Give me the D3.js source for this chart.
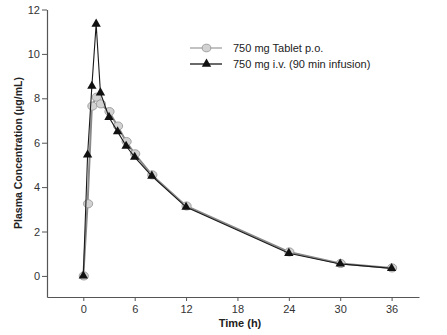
<!DOCTYPE html>
<html>
<head>
<meta charset="utf-8">
<script src="https://cdn.jsdelivr.net/npm/d3@7"></script>
<style>
  html, body { margin: 0; padding: 0; background: #fff; }
  svg { display: block; font-family: "Liberation Sans", Arial, sans-serif; }
</style>
</head>
<body>
<svg id="chart" width="447" height="335"></svg>
<script>
// Sampling times (h)
const times = [0, 0.5, 1, 1.5, 2, 3, 4, 5, 6, 8, 12, 24, 30, 36];
// 750 mg tablet p.o. plasma concentration (µg/mL)
const tabletValues = [0, 3.25, 7.65, 8.05, 7.75, 7.4, 6.75, 6.05, 5.5, 4.55, 3.15, 1.08, 0.56, 0.36];
// 750 mg i.v. (90 min infusion) plasma concentration (µg/mL)
const ivValues = [0, 5.45, 8.55, 11.35, 8.25, 7.15, 6.5, 5.85, 5.35, 4.5, 3.1, 1.02, 0.54, 0.34];

const xTicks = [0, 6, 12, 18, 24, 30, 36];
const yTicks = [0, 2, 4, 6, 8, 10, 12];
const seriesNames = ["750 mg Tablet p.o.", "750 mg i.v. (90 min infusion)"];

const svg = d3.select("#chart");

const x = d3.scaleLinear().domain([-4.24, 39.2]).range([47, 419]);
const y = d3.scaleLinear().domain([-0.95, 12]).range([297, 9.5]);

const axisColor = "#555";
const textColor = "#333";

// X axis
const xAxis = svg.append("g")
  .attr("transform", `translate(0,${y(-0.95)})`)
  .call(d3.axisBottom(x).tickValues(xTicks).tickSize(4).tickPadding(4).tickSizeOuter(0));
// Y axis
const yAxis = svg.append("g")
  .attr("transform", `translate(${x(-4.24)},0)`)
  .call(d3.axisLeft(y).tickValues(yTicks).tickSize(5).tickPadding(2).tickSizeOuter(0));

[xAxis, yAxis].forEach(g => {
  g.select(".domain").attr("stroke", axisColor).attr("stroke-width", 1.2);
  g.selectAll(".tick line").attr("stroke", axisColor);
  g.selectAll(".tick text").attr("fill", textColor)
    .style("font-size", "11px").style("font-family", "Liberation Sans, Arial, sans-serif");
});

// Axis titles
svg.append("text")
  .attr("x", 240).attr("y", 327)
  .attr("text-anchor", "middle")
  .style("font-size", "11px").style("font-weight", "bold")
  .attr("fill", "#222")
  .text("Time (h)");

svg.append("text")
  .attr("transform", `translate(22,153) rotate(-90)`)
  .attr("text-anchor", "middle")
  .style("font-size", "10.5px").style("font-weight", "bold")
  .attr("fill", "#222")
  .text("Plasma Concentration (µg/mL)");

const tabletData = times.map((t, i) => ({ t, v: tabletValues[i] }));
const ivData = times.map((t, i) => ({ t, v: ivValues[i] }));

const line = d3.line().x(d => x(d.t)).y(d => y(d.v));

// Tablet series: grey line with light grey circles
svg.append("path").datum(tabletData)
  .attr("d", line)
  .attr("fill", "none")
  .attr("stroke", "#8a8a8a")
  .attr("stroke-width", 2);

svg.append("g").selectAll("ellipse").data(tabletData).join("ellipse")
  .attr("cx", d => x(d.t) + 0.5)
  .attr("cy", d => y(d.v))
  .attr("rx", 4.6).attr("ry", 4.1)
  .attr("fill", "#d2d2d2")
  .attr("stroke", "#9a9a9a")
  .attr("stroke-width", 0.9);

// IV series: black line with filled triangles
svg.append("path").datum(ivData)
  .attr("d", line)
  .attr("fill", "none")
  .attr("stroke", "#1a1a1a")
  .attr("stroke-width", 1.1);

const tri = d3.symbol().type(d3.symbolTriangle).size(38);
svg.append("g").selectAll("path").data(ivData).join("path")
  .attr("transform", d => `translate(${x(d.t)},${y(d.v)})`)
  .attr("d", tri)
  .attr("fill", "#111");

// Legend
const legend = svg.append("g");
const legendRows = [
  { name: seriesNames[0], y: 48, kind: "circle" },
  { name: seriesNames[1], y: 64, kind: "triangle" }
];
legendRows.forEach(r => {
  const g = legend.append("g");
  g.append("line")
    .attr("x1", 190).attr("x2", 222)
    .attr("y1", r.y).attr("y2", r.y)
    .attr("stroke", r.kind === "circle" ? "#999" : "#1a1a1a")
    .attr("stroke-width", r.kind === "circle" ? 1.2 : 1.3);
  if (r.kind === "circle") {
    g.append("ellipse")
      .attr("cx", 206.5).attr("cy", r.y)
      .attr("rx", 4.3).attr("ry", 3.8)
      .attr("fill", "#d2d2d2").attr("stroke", "#9a9a9a").attr("stroke-width", 0.9);
  } else {
    g.append("path")
      .attr("transform", `translate(206.5,${r.y})`)
      .attr("d", tri).attr("fill", "#111");
  }
  g.append("text")
    .attr("x", 233).attr("y", r.y + 4)
    .style("font-size", "11px")
    .attr("fill", "#222")
    .text(r.name);
});
</script>
</body>
</html>
